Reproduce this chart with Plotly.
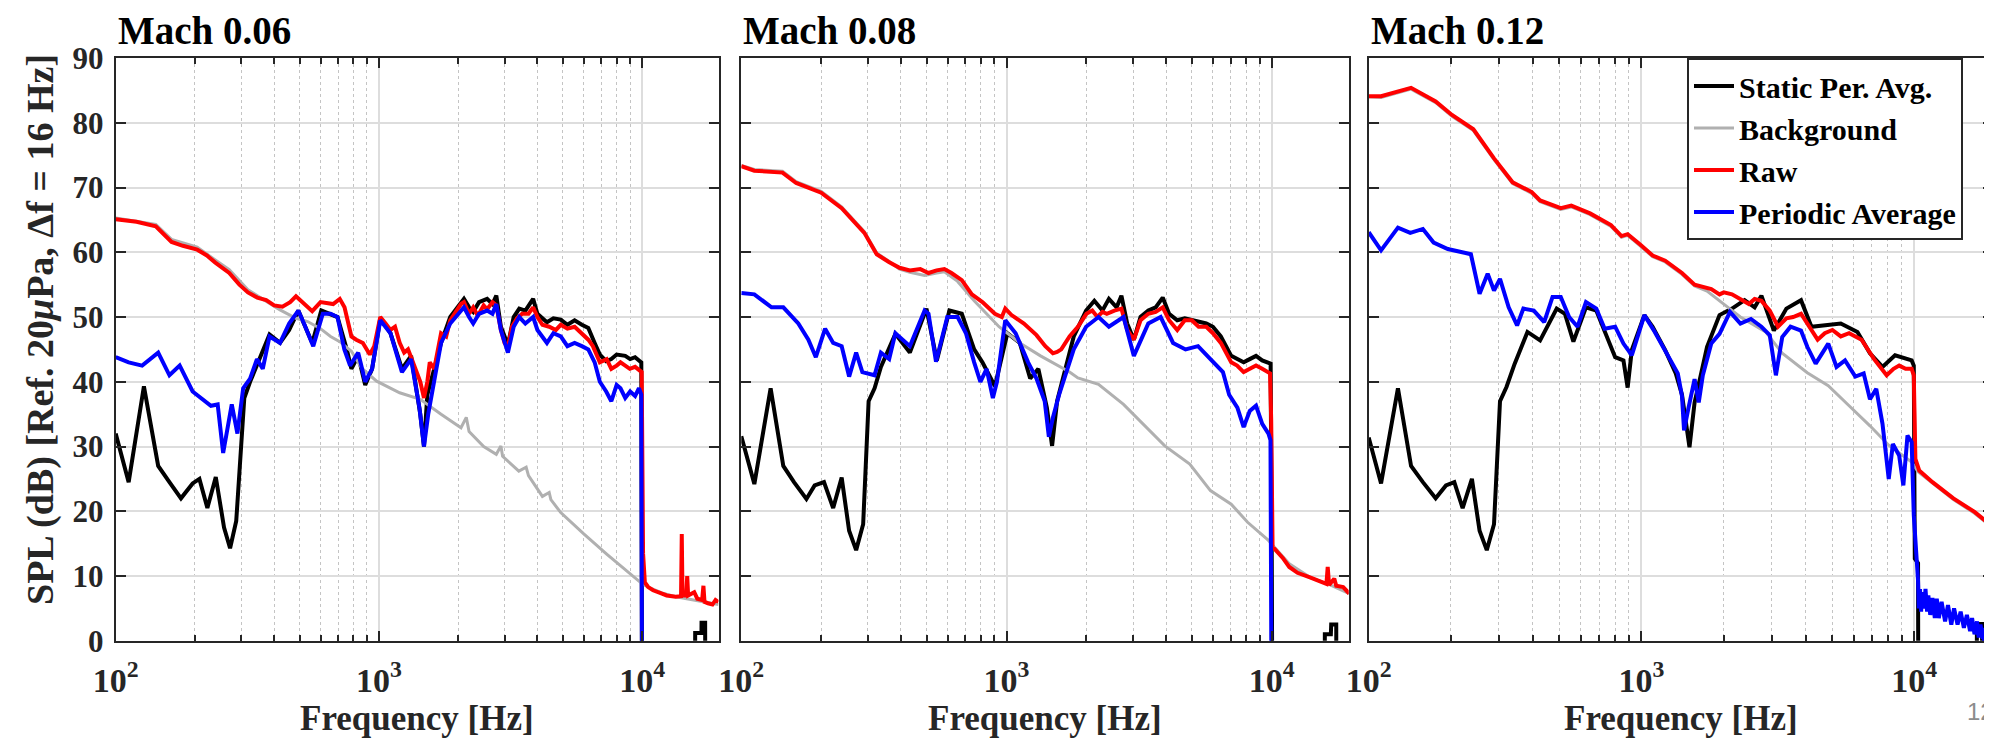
import plotly.graph_objects as go

# ---------------- data (frequency [Hz], SPL [dB]) ----------------
P1_BLACK = [(100,32),(112,24.5),(128,39.3),(145,27),(160,24.5),(177,22),(196,24.3),(208,25),(223,20.5),(240,25.3),
            (258,17.5),(272,14.3),(287,18.5),(299,30),(308,37.5),(324,40),(351,43.5),(384,47.3),(421,46),(456,48),
            (494,51),(525,48.5),(558,46),(604,51),(655,50.5),(696,50),(755,45),(786,42),(834,44),(887,39.5),
            (942,42),(1012,49.8),(1106,47.5),(1223,42),(1325,44),(1436,35),(1483,30),(1527,38),(1622,42),(1722,46),
            (1866,50),(2000,51.5),(2104,52.8),(2200,51.5),(2281,50.8),(2400,52.3),(2576,52.8),(2700,52),(2792,53.3),(2906,48.5),
            (3090,45.7),(3250,50),(3413,51.3),(3600,51),(3853,52.8),(4000,50.5),(4348,49.2),(4600,49.8),(4906,49.6),(5200,48.8),
            (5538,49.5),(5900,48.8),(6243,48.3),(6600,46),(6906,44.2),(7300,43.2),(7636,43.5),(8000,44.2),(8624,44),(9000,43.5),
            (9400,43.8),(9926,43),(10000,-20),(15850,-20),(15900,1.2),(16800,1.2),(16810,2.8),(17350,2.8),(17400,-20),(19500,-20)]
P1_GRAY = [(100,65.3),(142,64.3),(163,62.0),(204,60.8),(239,58.8),(270,57.3),(318,54.2),(373,52.4),(421,51.1),(484,49.8),
           (536,49.3),(600,48.2),(655,47.0),(710,46.2),(786,44.7),(860,42.1),(980,40.1),(1199,38.3),(1436,37.3),(1722,35.0),
           (2050,32.9),(2147,34.5),(2200,32.3),(2500,30.0),(2792,28.8),(2906,30.1),(2950,28.5),(3400,26.2),(3625,26.8),(3700,25.5),
           (4179,22.3),(4434,22.9),(4500,21.8),(4906,19.8),(6000,16.5),(7332,13.4),(8975,10.4),(10000,8.8),(10540,8.3),(11890,7.4),
           (13400,6.8),(15130,6.4),(17000,6.0),(19500,5.6)]
P1_RED = [(100,65.1),(120,64.7),(142,64.0),(155,62.5),(163,61.6),(180,61.0),(204,60.4),(222,59.5),(239,58.4),(270,56.8),
          (295,55.0),(318,53.8),(345,53.0),(373,52.6),(400,51.8),(430,51.6),(460,52.3),(484,53.2),(520,52.0),(558,50.9),
          (600,52.3),(630,52.2),(670,52.0),(710,52.8),(740,51.5),(786,47.0),(820,46.5),(869,46.0),(900,45.0),(923,44.2),
          (960,45.5),(1012,50.0),(1060,49.0),(1106,48.0),(1151,48.5),(1199,46.0),(1247,44.5),(1290,45.0),(1325,43.8),(1380,42.0),
          (1436,40.0),(1483,37.5),(1527,40.0),(1560,43.0),(1622,42.0),(1722,47.5),(1800,47.0),(1866,49.5),(1982,51.0),(2050,52.0),
          (2104,52.3),(2200,50.5),(2281,51.5),(2375,50.2),(2500,51.8),(2576,51.2),(2700,52.3),(2792,51.8),(2906,48.0),(3000,46.0),
          (3090,45.3),(3200,48.5),(3346,49.8),(3500,50.5),(3700,50.5),(3853,51.5),(4000,50.0),(4179,48.8),(4434,48.5),(4700,48.0),
          (4906,48.8),(5200,48.2),(5538,48.5),(5900,47.5),(6243,46.5),(6500,45.5),(6906,43.0),(7332,43.5),(7636,42.0),(8000,42.5),
          (8273,43.0),(8624,42.5),(8975,42.0),(9400,42.3),(9960,41.5),(10080,13.5),(10240,9.0),(10540,8.3),(11000,7.8),(11890,7.3),
          (12390,7.0),(13400,6.8),(14050,6.9),(14140,16.5),(14230,7.0),(14700,7.0),(14830,10.0),(14950,7.0),(15770,7.5),(16200,6.5),
          (16900,6.3),(17090,8.5),(17250,6.0),(17780,5.8),(18500,5.6),(19000,6.3),(19500,6.0)]
P1_BLUE = [(100,43.8),(112,43.0),(126,42.5),(135,43.5),(145,44.5),(160,41.0),(175,42.5),(196,38.5),(212,37.5),(230,36.3),
           (244,36.5),(256,29.0),(276,36.5),(290,32.0),(305,39.0),(324,40.5),(344,43.5),(362,42.0),(384,47.0),(421,46.0),
           (456,49.0),(494,51.0),(519,49.0),(563,45.5),(612,50.5),(655,50.5),(696,50.0),(739,45.0),(777,42.5),(834,44.5),
           (887,40.0),(942,42.0),(1012,49.5),(1106,47.5),(1223,41.5),(1325,43.5),(1425,36.0),(1483,30.0),(1539,35.0),(1622,40.0),
           (1722,46.0),(1866,49.0),(2000,50.5),(2104,51.5),(2200,50.0),(2281,49.0),(2400,50.5),(2576,51.0),(2700,50.5),(2792,52.0),
           (2906,48.0),(3090,44.5),(3250,48.5),(3413,50.0),(3600,49.0),(3853,50.0),(4000,48.0),(4348,46.0),(4600,47.5),(4906,47.0),
           (5200,45.5),(5538,46.0),(5900,45.5),(6243,45.0),(6600,43.0),(6906,40.0),(7300,38.5),(7636,37.0),(8000,39.5),(8273,39.0),
           (8624,37.5),(9000,38.5),(9400,37.8),(9723,39.0),(9926,38.0),(10000,-20),(19500,-20)]

P2_BLACK = [(100,31.6),(112,24.2),(129,39.0),(144,27.0),(158,24.5),(176,21.9),(189,24.0),(205,24.5),(222,20.5),(239,25.2),
            (255,17.0),(271,14.0),(288,18.0),(302,37.0),(318,39.0),(336,42.3),(381,47.4),(432,44.5),(499,51.3),(546,43.3),
            (609,51.0),(678,50.5),(755,45.0),(811,43.0),(873,40.5),(904,39.3),(1007,47.5),(1122,46.0),(1228,40.5),(1318,42.0),
            (1419,36.0),(1485,30.1),(1551,37.0),(1667,42.0),(1792,47.0),(1995,51.0),(2143,52.5),(2300,51.0),(2432,52.8),(2600,51.5),
            (2711,53.3),(2850,49.0),(3020,46.5),(3200,50.0),(3424,51.0),(3650,51.5),(3880,53.0),(4100,50.5),(4402,49.5),(4700,49.8),
            (4992,49.5),(5300,49.2),(5662,49.0),(6000,48.5),(6425,47.0),(7031,44.0),(7400,43.5),(7832,43.0),(8259,43.5),(8722,44.0),
            (9200,43.3),(9717,43.0),(9900,42.8),(10000,12.5),(10070,-20),(15800,-20),(15850,1.0),(16700,1.0),(16750,2.5),(17500,2.5),
            (17540,-20),(19590,-20)]
P2_GRAY = [(100,73.4),(112,72.8),(143,72.5),(161,70.9),(200,69.4),(239,67.0),(291,63.2),(324,59.9),(360,58.6),(395,57.4),
           (432,56.9),(491,56.4),(545,56.8),(583,57.0),(654,55.5),(755,52.5),(937,48.5),(1122,46.0),(1343,44.0),(1551,42.5),
           (1728,41.5),(1858,40.6),(2222,39.6),(2761,36.5),(3200,33.8),(3951,30.1),(4906,27.3),(5871,23.2),(7031,21.1),(8108,18.3),
           (9717,15.5),(11640,11.9),(13930,9.8),(16670,8.6),(19590,7.3)]
P2_RED = [(100,73.3),(112,72.6),(143,72.3),(161,70.7),(200,69.2),(239,66.8),(291,63.0),(324,59.7),(360,58.5),(395,57.6),
          (432,57.2),(473,57.4),(508,56.8),(545,57.2),(583,57.4),(620,56.8),(678,55.7),(740,53.5),(811,52.3),(904,50.5),
          (960,50.0),(989,51.3),(1044,50.3),(1163,49.0),(1297,47.2),(1400,45.5),(1496,44.4),(1551,44.6),(1608,45.0),(1728,47.0),
          (1858,48.5),(1925,49.5),(2000,50.5),(2105,51.0),(2200,50.0),(2300,50.8),(2388,50.5),(2550,51.0),(2711,51.3),(2850,48.0),
          (3020,46.5),(3200,49.5),(3424,50.5),(3650,50.8),(3880,51.5),(4100,49.5),(4402,48.0),(4700,49.5),(4992,49.5),(5300,48.5),
          (5662,48.5),(6000,47.5),(6425,46.0),(7031,43.0),(7400,42.5),(7832,41.5),(8259,42.0),(8722,42.5),(9200,42.0),(9717,41.5),
          (9850,41.3),(9950,34.0),(10070,14.5),(10250,14.2),(11000,12.8),(11640,11.4),(12500,10.5),(13930,9.8),(15000,9.2),(16070,8.8),
          (16250,11.4),(16450,8.6),(17200,9.6),(17500,8.5),(18580,8.3),(19590,7.3)]
P2_BLUE = [(100,53.7),(112,53.5),(130,51.5),(144,51.5),(164,49.0),(179,46.5),(191,43.8),(207,48.2),(222,46.0),(239,45.5),
           (255,40.8),(271,44.5),(286,41.5),(318,41.0),(336,44.5),(361,43.5),(381,47.5),(432,45.5),(491,51.0),(508,50.5),
           (542,43.1),(598,50.0),(654,50.0),(703,47.5),(755,43.0),(797,40.0),(841,42.0),(888,37.5),(920,40.0),(989,49.5),
           (1082,47.5),(1206,43.0),(1297,40.5),(1393,37.0),(1444,31.5),(1496,34.5),(1578,38.0),(1667,41.0),(1792,45.0),(1995,48.5),
           (2222,50.0),(2432,48.5),(2761,50.0),(3020,44.0),(3424,49.0),(3811,50.0),(4245,46.0),(4731,45.0),(5272,45.5),(5871,43.5),
           (6543,41.5),(6907,38.0),(7418,36.0),(7832,33.0),(8259,35.5),(8722,36.3),(9204,33.5),(9717,32.0),(9888,31.0),(10000,-20),
           (19590,-20)]

P3_BLACK = [(100,31.4),(111,24.3),(128,39.0),(143,27.0),(158,24.5),(176,22.0),(192,24.0),(206,24.5),(221,20.5),(239,25.0),
            (255,17.0),(271,14.0),(288,18.0),(303,37.0),(320,39.2),(343,42.8),(382,47.7),(425,46.4),(489,51.3),(524,50.5),
            (563,46.2),(626,51.5),(683,51.0),(746,47.2),(801,43.8),(859,43.3),(890,39.1),(922,44.9),(1025,50.3),(1099,48.5),
            (1222,44.9),(1336,41.3),(1408,38.0),(1500,29.9),(1566,36.8),(1650,41.0),(1740,45.4),(1933,50.3),(2148,51.3),(2389,52.6),
            (2600,51.5),(2753,53.3),(3058,47.9),(3399,51.3),(3846,52.6),(4200,48.5),(4670,48.7),(5380,49.0),(6193,47.7),(6883,44.4),
            (7652,42.3),(8507,44.1),(9788,43.3),(9965,42.5),(10050,12.7),(10330,12.0),(10360,-20),(16900,-20),(16980,2.6),(17730,2.6),
            (17800,-20),(19820,-20)]
P3_GRAY = [(100,84.0),(111,83.9),(143,85.2),(176,83.1),(202,81.0),(242,78.8),(288,74.3),(337,70.6),(396,69.1),(425,67.8),
           (506,66.6),(553,67.0),(648,65.8),(773,64.0),(845,62.3),(890,62.6),(989,61.0),(1099,59.3),(1222,58.5),(1408,56.6),
           (1566,54.8),(1740,54.0),(2004,52.0),(2306,50.0),(2853,47.7),(3282,44.4),(4055,41.4),(4841,39.4),(5771,36.3),(6883,33.2),
           (8066,30.2),(9788,27.6),(10330,26.1),(11670,24.3),(13920,21.8),(16640,19.7),(19820,17.1)]
P3_RED = [(100,84.1),(111,84.1),(143,85.4),(176,83.3),(202,81.2),(242,79.0),(288,74.5),(337,70.8),(396,69.3),(425,68.0),
          (506,66.8),(553,67.2),(648,66.0),(773,64.2),(845,62.5),(890,62.8),(989,61.2),(1099,59.5),(1222,58.7),(1408,56.8),
          (1566,55.0),(1803,54.3),(1933,53.5),(2004,53.8),(2148,53.5),(2306,52.8),(2476,52.0),(2600,52.8),(2753,52.5),(2954,51.0),
          (3167,48.5),(3399,49.8),(3600,50.0),(3846,50.5),(4130,48.5),(4426,46.5),(4700,47.5),(5013,48.0),(5380,47.0),(5771,47.5),
          (6412,46.5),(7129,43.5),(7925,41.0),(8400,42.0),(8810,42.5),(9300,42.0),(9788,42.0),(9965,41.0),(10100,28.1),(10430,26.3),
          (11670,24.5),(13920,22.0),(16640,19.9),(19820,17.3)]
P3_BLUE = [(100,63.1),(111,60.3),(128,63.8),(142,63.0),(158,63.6),(173,61.5),(195,60.5),(237,59.7),(255,53.6),(273,56.7),
           (288,54.1),(303,55.9),(326,51.5),(350,48.7),(369,51.3),(403,51.0),(440,49.2),(472,53.1),(506,53.1),(543,50.0),
           (583,48.5),(626,52.3),(683,51.3),(733,48.2),(801,48.5),(859,45.9),(922,44.1),(1025,50.3),(1119,47.7),(1222,44.9),
           (1359,41.3),(1408,37.8),(1433,32.5),(1485,35.8),(1566,40.4),(1622,36.8),(1679,41.0),(1803,45.9),(1933,47.4),(2112,50.8),
           (2306,49.0),(2520,49.7),(2753,48.5),(2954,47.2),(3111,41.0),(3282,46.9),(3521,48.5),(3846,47.9),(4055,45.4),(4353,42.8),
           (4841,45.9),(5190,42.3),(5577,43.3),(6084,40.8),(6528,41.3),(6883,37.3),(7259,38.9),(7652,33.5),(8066,25.0),(8352,30.4),
           (8810,28.6),(9125,24.0),(9449,31.7),(9788,30.7),(9965,19.4),(10330,9.3),(10400,5.0),(10500,8.0),(10600,4.5),(10700,7.5),
           (10880,5.0),(11000,8.0),(11150,4.5),(11270,7.0),(11450,4.0),(11670,6.6),(11900,3.5),(12100,6.5),(12310,3.5),(12600,6.0),
           (12980,3.0),(13300,5.5),(13680,2.5),(14000,5.0),(14420,2.5),(14800,4.5),(15210,2.0),(15600,4.0),(16030,1.5),(16300,3.5),
           (16640,1.0),(17000,3.0),(17230,0.5),(17500,2.5),(17840,0.3),(18000,2.0),(18160,-5),(19820,-20)]

PANEL_TITLES = ["Mach 0.06", "Mach 0.08", "Mach 0.12"]
SERIES_NAMES = ["Static Per. Avg.", "Background", "Raw", "Periodic Average"]
X_TICKS = [100, 1000, 10000]
X_TICKTEXT = ["10<sup>2</sup>", "10<sup>3</sup>", "10<sup>4</sup>"]
X_MINOR = [200, 300, 400, 500, 600, 700, 800, 900, 2000, 3000, 4000, 5000, 6000, 7000, 8000, 9000]
Y_TICKS = [0, 10, 20, 30, 40, 50, 60, 70, 80, 90]

PANEL_DATA = [
    [P1_BLACK, P1_GRAY, P1_RED, P1_BLUE],
    [P2_BLACK, P2_GRAY, P2_RED, P2_BLUE],
    [P3_BLACK, P3_GRAY, P3_RED, P3_BLUE],
]

# ---------------- layout / style ----------------
W, H = 1992, 740
COLORS = ["#000000", "#b0b0b0", "#ff0000", "#0000ff"]
WIDTHS = [4, 3, 4, 4]
SERIF = "Liberation Serif"
AX = "#262626"
PANEL_PX = [(107.7, 710.5), (733.3, 1340.7), (1360.7, 1985.3)]
TOP_PX, BOT_PX = 50.0, 632.8

fig = go.Figure()
for i, series in enumerate(PANEL_DATA):
    sfx = "" if i == 0 else str(i + 1)
    for j, pts in enumerate(series):
        fig.add_trace(go.Scatter(
            x=[p[0] for p in pts], y=[p[1] for p in pts], mode="lines",
            name=SERIES_NAMES[j], legendgroup=SERIES_NAMES[j], showlegend=(i == 2),
            line=dict(color=COLORS[j], width=WIDTHS[j]),
            xaxis="x" + sfx, yaxis="y" + sfx, hoverinfo="skip"))

layout = dict(
    width=W, height=H, margin=dict(l=0, r=0, t=0, b=0, autoexpand=False),
    paper_bgcolor="white", plot_bgcolor="white",
    showlegend=True,
    legend=dict(x=1679 / W, xanchor="left", y=1 - TOP_PX / H, yanchor="top",
                bgcolor="white", bordercolor=AX, borderwidth=2,
                font=dict(family=SERIF, size=30, color="black", weight="bold"),
                itemwidth=40, tracegroupgap=0),
)
annotations = []
for i in range(3):
    sfx = "" if i == 0 else str(i + 1)
    x0, x1 = PANEL_PX[i]
    layout["xaxis" + sfx] = dict(
        type="log", range=[2, 4.29], domain=[x0 / W, x1 / W], anchor="y" + sfx, automargin=False,
        tickmode="array", tickvals=X_TICKS, ticktext=X_TICKTEXT,
        ticks="inside", ticklen=10, tickwidth=1.5, tickcolor=AX,
        showline=True, linecolor=AX, linewidth=2, mirror="ticks",
        showgrid=True, gridcolor="#dddddd", gridwidth=1.5, zeroline=False,
        tickfont=dict(family=SERIF, size=34, color=AX, weight="bold"),
        ticklabelstandoff=8,
        minor=dict(tickmode="array", tickvals=X_MINOR, ticks="inside", ticklen=6, tickcolor=AX,
                   showgrid=True, gridcolor="#c4c4c4", griddash="dot", gridwidth=1),
    )
    layout["yaxis" + sfx] = dict(
        range=[0, 90], domain=[1 - BOT_PX / H, 1 - TOP_PX / H], anchor="x" + sfx, automargin=False,
        tickmode="array", tickvals=Y_TICKS, showticklabels=(i == 0),
        ticks="inside", ticklen=10, tickwidth=1.5, tickcolor=AX,
        showline=True, linecolor=AX, linewidth=2, mirror="ticks",
        showgrid=True, gridcolor="#dddddd", gridwidth=1.5, zeroline=False,
        tickfont=dict(family=SERIF, size=31, color=AX, weight="bold"),
        ticklabelstandoff=4,
    )
    annotations.append(dict(text="<b>%s</b>" % PANEL_TITLES[i], xref="paper", yref="paper",
                            x=x0 / W, y=1 - 46 / H, xanchor="left", yanchor="bottom",
                            showarrow=False, font=dict(family=SERIF, size=39, color="black")))
    annotations.append(dict(text="<b>Frequency [Hz]</b>", xref="paper", yref="paper",
                            x=(x0 + x1) / 2 / W, y=1 - 710 / H, xanchor="center", yanchor="middle",
                            showarrow=False, font=dict(family=SERIF, size=35, color=AX)))
annotations.append(dict(text="<b>SPL (dB) [Ref. 20<i>μ</i>Pa, Δf = 16 Hz]</b>", xref="paper", yref="paper",
                        x=32 / W, y=1 - 322 / H, xanchor="center", yanchor="middle", textangle=-90,
                        showarrow=False, font=dict(family=SERIF, size=38, color=AX)))
annotations.append(dict(text="12", xref="paper", yref="paper", x=1988 / W, y=1 - 703 / H,
                        xanchor="right", yanchor="middle", showarrow=False,
                        font=dict(family="Liberation Sans", size=24, color="#8c8c8c")))
layout["annotations"] = annotations
fig.update_layout(**layout)
fig.write_html("out.html")
